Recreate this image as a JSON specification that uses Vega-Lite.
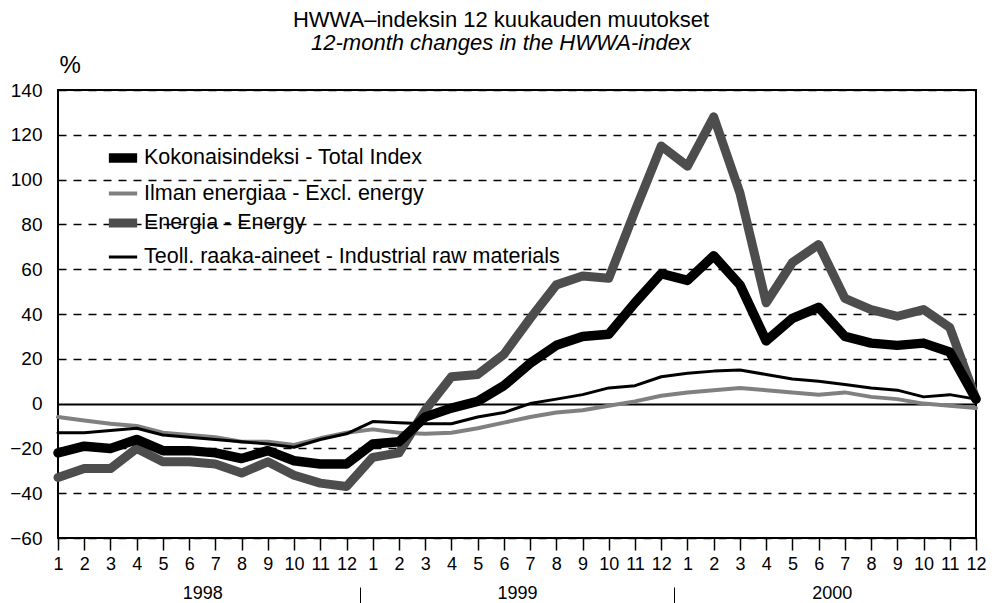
{
  "$schema": "https://vega.github.io/schema/vega-lite/v6.json",
  "width": 918,
  "height": 448,
  "autosize": {"type": "none"},
  "padding": {"left": 58, "top": 90, "right": 18, "bottom": 65},
  "background": "white",
  "config": {"font": "Liberation Sans", "view": {"stroke": "black", "strokeWidth": 2}},
  "title": {
    "text": "HWWA–indeksin 12 kuukauden muutokset",
    "subtitle": "12-month changes in the HWWA-index",
    "fontSize": 22, "fontWeight": "normal", "color": "black",
    "subtitleFontSize": 22, "subtitleFontStyle": "italic", "subtitleColor": "black",
    "subtitlePadding": 1, "anchor": "middle", "frame": "group", "dx": -16, "offset": -2
  },
  "datasets": {
    "series": [
      {"series": "Ilman energiaa - Excl. energy", "t": 1, "value": -6},
      {"series": "Ilman energiaa - Excl. energy", "t": 2, "value": -7.5},
      {"series": "Ilman energiaa - Excl. energy", "t": 3, "value": -9},
      {"series": "Ilman energiaa - Excl. energy", "t": 4, "value": -10},
      {"series": "Ilman energiaa - Excl. energy", "t": 5, "value": -13},
      {"series": "Ilman energiaa - Excl. energy", "t": 6, "value": -14},
      {"series": "Ilman energiaa - Excl. energy", "t": 7, "value": -15},
      {"series": "Ilman energiaa - Excl. energy", "t": 8, "value": -17},
      {"series": "Ilman energiaa - Excl. energy", "t": 9, "value": -17},
      {"series": "Ilman energiaa - Excl. energy", "t": 10, "value": -18.5},
      {"series": "Ilman energiaa - Excl. energy", "t": 11, "value": -15.5},
      {"series": "Ilman energiaa - Excl. energy", "t": 12, "value": -13},
      {"series": "Ilman energiaa - Excl. energy", "t": 13, "value": -11.5},
      {"series": "Ilman energiaa - Excl. energy", "t": 14, "value": -13},
      {"series": "Ilman energiaa - Excl. energy", "t": 15, "value": -13.5},
      {"series": "Ilman energiaa - Excl. energy", "t": 16, "value": -13},
      {"series": "Ilman energiaa - Excl. energy", "t": 17, "value": -11},
      {"series": "Ilman energiaa - Excl. energy", "t": 18, "value": -8.5},
      {"series": "Ilman energiaa - Excl. energy", "t": 19, "value": -6},
      {"series": "Ilman energiaa - Excl. energy", "t": 20, "value": -4},
      {"series": "Ilman energiaa - Excl. energy", "t": 21, "value": -3},
      {"series": "Ilman energiaa - Excl. energy", "t": 22, "value": -1},
      {"series": "Ilman energiaa - Excl. energy", "t": 23, "value": 1},
      {"series": "Ilman energiaa - Excl. energy", "t": 24, "value": 3.5},
      {"series": "Ilman energiaa - Excl. energy", "t": 25, "value": 5},
      {"series": "Ilman energiaa - Excl. energy", "t": 26, "value": 6},
      {"series": "Ilman energiaa - Excl. energy", "t": 27, "value": 7},
      {"series": "Ilman energiaa - Excl. energy", "t": 28, "value": 6},
      {"series": "Ilman energiaa - Excl. energy", "t": 29, "value": 5},
      {"series": "Ilman energiaa - Excl. energy", "t": 30, "value": 4},
      {"series": "Ilman energiaa - Excl. energy", "t": 31, "value": 5},
      {"series": "Ilman energiaa - Excl. energy", "t": 32, "value": 3},
      {"series": "Ilman energiaa - Excl. energy", "t": 33, "value": 2},
      {"series": "Ilman energiaa - Excl. energy", "t": 34, "value": 0},
      {"series": "Ilman energiaa - Excl. energy", "t": 35, "value": -1},
      {"series": "Ilman energiaa - Excl. energy", "t": 36, "value": -2},
      {"series": "Teoll. raaka-aineet - Industrial raw materials", "t": 1, "value": -13},
      {"series": "Teoll. raaka-aineet - Industrial raw materials", "t": 2, "value": -13},
      {"series": "Teoll. raaka-aineet - Industrial raw materials", "t": 3, "value": -12},
      {"series": "Teoll. raaka-aineet - Industrial raw materials", "t": 4, "value": -11},
      {"series": "Teoll. raaka-aineet - Industrial raw materials", "t": 5, "value": -14},
      {"series": "Teoll. raaka-aineet - Industrial raw materials", "t": 6, "value": -15},
      {"series": "Teoll. raaka-aineet - Industrial raw materials", "t": 7, "value": -16},
      {"series": "Teoll. raaka-aineet - Industrial raw materials", "t": 8, "value": -17},
      {"series": "Teoll. raaka-aineet - Industrial raw materials", "t": 9, "value": -18},
      {"series": "Teoll. raaka-aineet - Industrial raw materials", "t": 10, "value": -19.5},
      {"series": "Teoll. raaka-aineet - Industrial raw materials", "t": 11, "value": -16},
      {"series": "Teoll. raaka-aineet - Industrial raw materials", "t": 12, "value": -13.5},
      {"series": "Teoll. raaka-aineet - Industrial raw materials", "t": 13, "value": -8},
      {"series": "Teoll. raaka-aineet - Industrial raw materials", "t": 14, "value": -8.5},
      {"series": "Teoll. raaka-aineet - Industrial raw materials", "t": 15, "value": -9},
      {"series": "Teoll. raaka-aineet - Industrial raw materials", "t": 16, "value": -9},
      {"series": "Teoll. raaka-aineet - Industrial raw materials", "t": 17, "value": -6},
      {"series": "Teoll. raaka-aineet - Industrial raw materials", "t": 18, "value": -4},
      {"series": "Teoll. raaka-aineet - Industrial raw materials", "t": 19, "value": 0},
      {"series": "Teoll. raaka-aineet - Industrial raw materials", "t": 20, "value": 2},
      {"series": "Teoll. raaka-aineet - Industrial raw materials", "t": 21, "value": 4},
      {"series": "Teoll. raaka-aineet - Industrial raw materials", "t": 22, "value": 7},
      {"series": "Teoll. raaka-aineet - Industrial raw materials", "t": 23, "value": 8},
      {"series": "Teoll. raaka-aineet - Industrial raw materials", "t": 24, "value": 12},
      {"series": "Teoll. raaka-aineet - Industrial raw materials", "t": 25, "value": 13.5},
      {"series": "Teoll. raaka-aineet - Industrial raw materials", "t": 26, "value": 14.5},
      {"series": "Teoll. raaka-aineet - Industrial raw materials", "t": 27, "value": 15},
      {"series": "Teoll. raaka-aineet - Industrial raw materials", "t": 28, "value": 13},
      {"series": "Teoll. raaka-aineet - Industrial raw materials", "t": 29, "value": 11},
      {"series": "Teoll. raaka-aineet - Industrial raw materials", "t": 30, "value": 10},
      {"series": "Teoll. raaka-aineet - Industrial raw materials", "t": 31, "value": 8.5},
      {"series": "Teoll. raaka-aineet - Industrial raw materials", "t": 32, "value": 7},
      {"series": "Teoll. raaka-aineet - Industrial raw materials", "t": 33, "value": 6},
      {"series": "Teoll. raaka-aineet - Industrial raw materials", "t": 34, "value": 3},
      {"series": "Teoll. raaka-aineet - Industrial raw materials", "t": 35, "value": 4},
      {"series": "Teoll. raaka-aineet - Industrial raw materials", "t": 36, "value": 2},
      {"series": "Energia - Energy", "t": 1, "value": -33},
      {"series": "Energia - Energy", "t": 2, "value": -29},
      {"series": "Energia - Energy", "t": 3, "value": -29},
      {"series": "Energia - Energy", "t": 4, "value": -20},
      {"series": "Energia - Energy", "t": 5, "value": -26},
      {"series": "Energia - Energy", "t": 6, "value": -26},
      {"series": "Energia - Energy", "t": 7, "value": -27},
      {"series": "Energia - Energy", "t": 8, "value": -31},
      {"series": "Energia - Energy", "t": 9, "value": -26},
      {"series": "Energia - Energy", "t": 10, "value": -32},
      {"series": "Energia - Energy", "t": 11, "value": -35.5},
      {"series": "Energia - Energy", "t": 12, "value": -37},
      {"series": "Energia - Energy", "t": 13, "value": -24},
      {"series": "Energia - Energy", "t": 14, "value": -22},
      {"series": "Energia - Energy", "t": 15, "value": -3},
      {"series": "Energia - Energy", "t": 16, "value": 12},
      {"series": "Energia - Energy", "t": 17, "value": 13},
      {"series": "Energia - Energy", "t": 18, "value": 22},
      {"series": "Energia - Energy", "t": 19, "value": 38},
      {"series": "Energia - Energy", "t": 20, "value": 53},
      {"series": "Energia - Energy", "t": 21, "value": 57},
      {"series": "Energia - Energy", "t": 22, "value": 56},
      {"series": "Energia - Energy", "t": 23, "value": 86},
      {"series": "Energia - Energy", "t": 24, "value": 115},
      {"series": "Energia - Energy", "t": 25, "value": 106},
      {"series": "Energia - Energy", "t": 26, "value": 128},
      {"series": "Energia - Energy", "t": 27, "value": 94},
      {"series": "Energia - Energy", "t": 28, "value": 45},
      {"series": "Energia - Energy", "t": 29, "value": 63},
      {"series": "Energia - Energy", "t": 30, "value": 71},
      {"series": "Energia - Energy", "t": 31, "value": 47},
      {"series": "Energia - Energy", "t": 32, "value": 42},
      {"series": "Energia - Energy", "t": 33, "value": 39},
      {"series": "Energia - Energy", "t": 34, "value": 42},
      {"series": "Energia - Energy", "t": 35, "value": 34},
      {"series": "Energia - Energy", "t": 36, "value": 2},
      {"series": "Kokonaisindeksi - Total Index", "t": 1, "value": -22},
      {"series": "Kokonaisindeksi - Total Index", "t": 2, "value": -19},
      {"series": "Kokonaisindeksi - Total Index", "t": 3, "value": -20},
      {"series": "Kokonaisindeksi - Total Index", "t": 4, "value": -16},
      {"series": "Kokonaisindeksi - Total Index", "t": 5, "value": -21},
      {"series": "Kokonaisindeksi - Total Index", "t": 6, "value": -21},
      {"series": "Kokonaisindeksi - Total Index", "t": 7, "value": -22},
      {"series": "Kokonaisindeksi - Total Index", "t": 8, "value": -24.5},
      {"series": "Kokonaisindeksi - Total Index", "t": 9, "value": -21},
      {"series": "Kokonaisindeksi - Total Index", "t": 10, "value": -25.5},
      {"series": "Kokonaisindeksi - Total Index", "t": 11, "value": -27},
      {"series": "Kokonaisindeksi - Total Index", "t": 12, "value": -27},
      {"series": "Kokonaisindeksi - Total Index", "t": 13, "value": -18},
      {"series": "Kokonaisindeksi - Total Index", "t": 14, "value": -17},
      {"series": "Kokonaisindeksi - Total Index", "t": 15, "value": -6},
      {"series": "Kokonaisindeksi - Total Index", "t": 16, "value": -2},
      {"series": "Kokonaisindeksi - Total Index", "t": 17, "value": 1},
      {"series": "Kokonaisindeksi - Total Index", "t": 18, "value": 8},
      {"series": "Kokonaisindeksi - Total Index", "t": 19, "value": 18},
      {"series": "Kokonaisindeksi - Total Index", "t": 20, "value": 26},
      {"series": "Kokonaisindeksi - Total Index", "t": 21, "value": 30},
      {"series": "Kokonaisindeksi - Total Index", "t": 22, "value": 31},
      {"series": "Kokonaisindeksi - Total Index", "t": 23, "value": 45},
      {"series": "Kokonaisindeksi - Total Index", "t": 24, "value": 58},
      {"series": "Kokonaisindeksi - Total Index", "t": 25, "value": 55},
      {"series": "Kokonaisindeksi - Total Index", "t": 26, "value": 66},
      {"series": "Kokonaisindeksi - Total Index", "t": 27, "value": 53},
      {"series": "Kokonaisindeksi - Total Index", "t": 28, "value": 28},
      {"series": "Kokonaisindeksi - Total Index", "t": 29, "value": 38},
      {"series": "Kokonaisindeksi - Total Index", "t": 30, "value": 43},
      {"series": "Kokonaisindeksi - Total Index", "t": 31, "value": 30},
      {"series": "Kokonaisindeksi - Total Index", "t": 32, "value": 27},
      {"series": "Kokonaisindeksi - Total Index", "t": 33, "value": 26},
      {"series": "Kokonaisindeksi - Total Index", "t": 34, "value": 27},
      {"series": "Kokonaisindeksi - Total Index", "t": 35, "value": 23},
      {"series": "Kokonaisindeksi - Total Index", "t": 36, "value": 2}
    ],
    "years": [
      {"year": "1998", "mid": 6.5},
      {"year": "1999", "mid": 18.5},
      {"year": "2000", "mid": 30.5}
    ]
  },
  "layer": [
    {
      "data": {"name": "series"},
      "mark": {"type": "line", "strokeJoin": "round", "strokeCap": "round"},
      "encoding": {
        "x": {
          "field": "t", "type": "quantitative",
          "scale": {"domain": [1, 36], "nice": false, "zero": false},
          "axis": {
            "values": [1,2,3,4,5,6,7,8,9,10,11,12,13,14,15,16,17,18,19,20,21,22,23,24,25,26,27,28,29,30,31,32,33,34,35,36],
            "labelExpr": "((datum.value - 1) % 12) + 1",
            "title": null, "domain": false, "grid": false,
            "labelFontSize": 18, "labelColor": "black", "labelPadding": 5,
            "labelFlush": false, "labelOverlap": false,
            "tickColor": "black", "tickSize": 12, "tickWidth": 1.5
          }
        },
        "y": {
          "field": "value", "type": "quantitative",
          "scale": {"domain": [-60, 140], "nice": false, "zero": false},
          "axis": {
            "values": [-60,-40,-20,0,20,40,60,80,100,120,140],
            "title": "%", "titleAngle": 0, "titleAlign": "left", "titleBaseline": "alphabetic",
            "titleX": 1, "titleY": -18, "titleFontSize": 24, "titleFontWeight": "normal", "titleColor": "black",
            "labelFontSize": 19, "labelColor": "black", "labelPadding": 16,
            "ticks": false, "domain": false,
            "grid": true, "gridColor": "black", "gridOpacity": 1,
            "gridDash": {"condition": {"test": "datum.value === 0", "value": []}, "value": [8, 7]},
            "gridWidth": {"condition": {"test": "datum.value === 0", "value": 2}, "value": 1.5}
          }
        },
        "stroke": {
          "field": "series", "type": "nominal",
          "scale": {
            "domain": ["Kokonaisindeksi - Total Index", "Ilman energiaa - Excl. energy", "Energia - Energy", "Teoll. raaka-aineet - Industrial raw materials"],
            "range": ["#000000", "#808080", "#4d4d4d", "#000000"]
          },
          "legend": {
            "title": null, "orient": "none", "legendX": 46, "legendY": 49,
            "labelFontSize": 21.5, "labelColor": "black", "labelOffset": 2, "labelLimit": 0,
            "symbolType": "stroke", "symbolSize": 800, "rowPadding": -6
          }
        },
        "strokeWidth": {
          "field": "series", "type": "nominal",
          "scale": {
            "type": "ordinal",
            "domain": ["Kokonaisindeksi - Total Index", "Ilman energiaa - Excl. energy", "Energia - Energy", "Teoll. raaka-aineet - Industrial raw materials"],
            "range": [9.5, 4, 9, 3]
          },
          "legend": {
            "title": null, "orient": "none", "legendX": 46, "legendY": 49,
            "labelFontSize": 21.5, "labelColor": "black", "labelOffset": 2, "labelLimit": 0,
            "symbolType": "stroke", "symbolSize": 800, "rowPadding": -6
          }
        }
      }
    },
    {
      "data": {"name": "years"},
      "mark": {"type": "point", "opacity": 0},
      "encoding": {
        "x": {
          "field": "mid", "type": "quantitative",
          "axis": {
            "orient": "bottom", "offset": 49,
            "values": [6.5, 12.5, 18.5, 24.5, 30.5],
            "labelExpr": "datum.value == 6.5 ? '1998' : datum.value == 18.5 ? '1999' : datum.value == 30.5 ? '2000' : ''",
            "title": null, "domain": false, "grid": false,
            "labelFontSize": 18, "labelColor": "black", "labelPadding": -20,
            "labelFlush": false, "labelOverlap": false,
            "tickColor": "black", "tickSize": 17, "tickWidth": 1,
            "tickOpacity": {"condition": {"test": "datum.value == 12.5 || datum.value == 24.5", "value": 1}, "value": 0}
          }
        }
      }
    }
  ],
  "resolve": {"axis": {"x": "independent"}}
}
